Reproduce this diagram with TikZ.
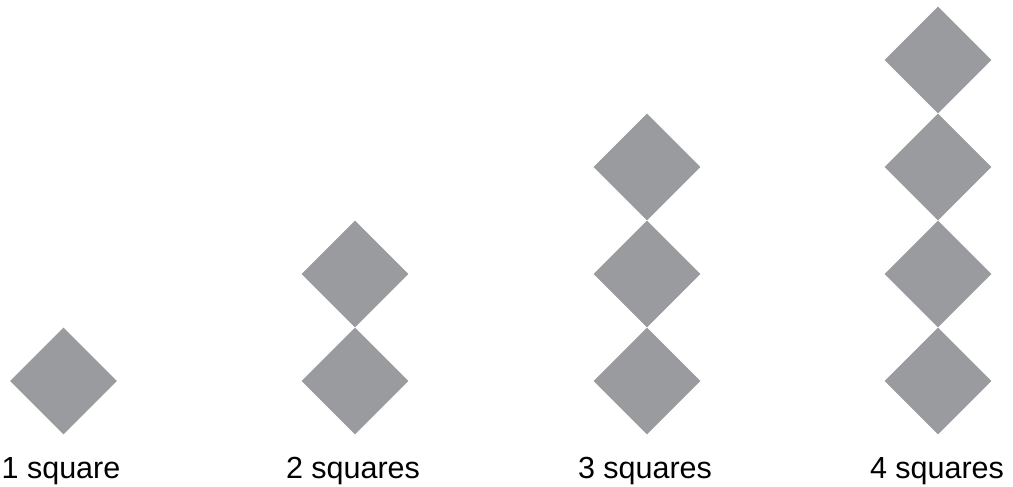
\documentclass[tikz,border=0pt]{standalone}
\usepackage{fontspec}
\setmainfont{Liberation Sans}
\usetikzlibrary{shapes.geometric}
\definecolor{sqgray}{RGB}{154,155,159}

\tikzset{
  sq/.style={diamond,aspect=1,fill=sqgray,inner sep=0pt,
    minimum width=107pt,minimum height=107pt},
  lbl/.style={anchor=base,font=\fontsize{30.5}{36}\selectfont}
}

\begin{document}
\begin{tikzpicture}[x=1pt,y=-1pt]
  \useasboundingbox (0,0) rectangle (1013,487);

  % columns of squares
  \foreach \n/\x in {1/63.5,2/355,3/647,4/938}{
    \foreach \k in {1,...,\n}
      \node[sq] (s\n-\k) at (\x,{381-107*(\k-1)}) {};
  }

  % labels
  \node[lbl] (l1) at (61,478) {1 square};
  \node[lbl] (l2) at (353,478) {2 squares};
  \node[lbl] (l3) at (645,478) {3 squares};
  \node[lbl] (l4) at (937,478) {4 squares};
\end{tikzpicture}
\end{document}
